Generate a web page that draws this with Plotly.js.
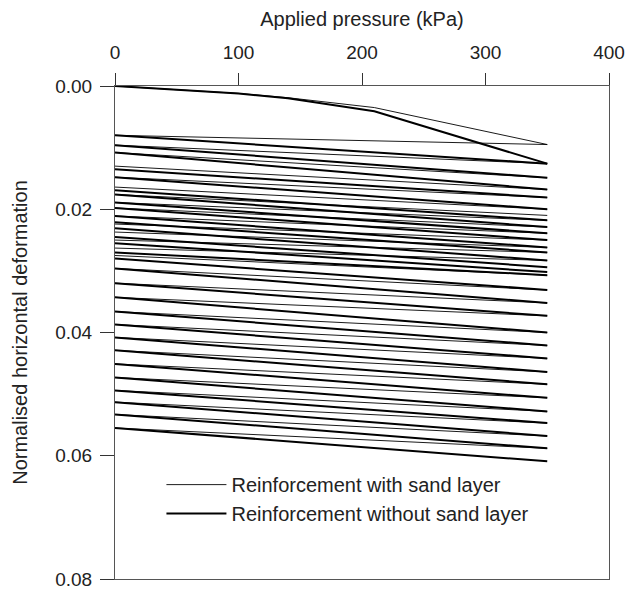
<!DOCTYPE html>
<html>
<head>
<meta charset="utf-8">
<script src="https://cdn.plot.ly/plotly-3.0.1.min.js"></script>
<style>html,body{margin:0;padding:0;background:#fff;}#chart{width:626px;height:592px;}</style>
</head>
<body>
<div id="chart"></div>
<script>
// Pressure (kPa) at the start and end of each straight line
const pressureEnds = [0, 350];

// Top curves (start from zero)
const topPressure = [0, 100, 140, 210, 350];
const topWithSand = [0, 0.0012, 0.0019, 0.0035, 0.0095];
const topWithoutSand = [0, 0.0012, 0.0020, 0.0041, 0.0126];

// Reinforcement with sand layer: value at 0 kPa and at 350 kPa
const withSandStart = [0.0080, 0.0096, 0.0108, 0.0130, 0.0148, 0.0164, 0.0176, 0.0189, 0.0198, 0.0211, 0.0224, 0.0237, 0.0250, 0.0263, 0.0275, 0.0296, 0.0320, 0.0343, 0.0366, 0.0387, 0.0408, 0.0429, 0.0451, 0.0473, 0.0494, 0.0513, 0.0533, 0.0555];
const withSandEnd   = [0.0095, 0.0126, 0.0149, 0.0168, 0.0181, 0.0200, 0.0210, 0.0218, 0.0229, 0.0239, 0.0250, 0.0262, 0.0270, 0.0283, 0.0307, 0.0331, 0.0352, 0.0373, 0.0400, 0.0421, 0.0442, 0.0464, 0.0484, 0.0506, 0.0528, 0.0547, 0.0568, 0.0588];

// Reinforcement without sand layer: value at 0 kPa and at 350 kPa
const withoutSandStart = [0.0080, 0.0096, 0.0108, 0.0135, 0.0148, 0.0169, 0.0176, 0.0189, 0.0198, 0.0211, 0.0221, 0.0231, 0.0245, 0.0255, 0.0270, 0.0280, 0.0296, 0.0320, 0.0343, 0.0366, 0.0387, 0.0408, 0.0429, 0.0451, 0.0473, 0.0494, 0.0513, 0.0533, 0.0555];
const withoutSandEnd   = [0.0126, 0.0149, 0.0168, 0.0181, 0.0200, 0.0218, 0.0229, 0.0239, 0.0250, 0.0262, 0.0270, 0.0283, 0.0294, 0.0302, 0.0307, 0.0331, 0.0352, 0.0373, 0.0400, 0.0421, 0.0442, 0.0464, 0.0484, 0.0506, 0.0528, 0.0547, 0.0568, 0.0588, 0.0609];

const xTicks = [0, 100, 200, 300, 400];
const yTicks = [0, 0.02, 0.04, 0.06, 0.08];
const yTickText = ['0.00', '0.02', '0.04', '0.06', '0.08'];

const thin = {color: '#000', width: 0.9};
const thick = {color: '#000', width: 2};

const traces = [];
traces.push({x: topPressure, y: topWithSand, mode: 'lines', line: thin, name: 'Reinforcement with sand layer', legendgroup: 'a', showlegend: true, hoverinfo: 'skip'});
traces.push({x: topPressure, y: topWithoutSand, mode: 'lines', line: thick, name: 'Reinforcement without sand layer', legendgroup: 'b', showlegend: true, hoverinfo: 'skip'});
withSandStart.forEach((s, i) => {
  traces.push({x: pressureEnds, y: [s, withSandEnd[i]], mode: 'lines', line: thin, legendgroup: 'a', showlegend: false, hoverinfo: 'skip'});
});
withoutSandStart.forEach((s, i) => {
  traces.push({x: pressureEnds, y: [s, withoutSandEnd[i]], mode: 'lines', line: thick, legendgroup: 'b', showlegend: false, hoverinfo: 'skip'});
});

const fam = 'Liberation Sans, Arial, sans-serif';
const txt = '#222';

const layout = {
  width: 626, height: 592,
  margin: {l: 115, r: 17, t: 86, b: 13},
  paper_bgcolor: '#fff', plot_bgcolor: '#fff',
  font: {family: fam, size: 19, color: txt},
  showlegend: true,
  legend: {x: 0.094, y: 0.231, xanchor: 'left', yanchor: 'top', bgcolor: 'rgba(0,0,0,0)', borderwidth: 0, font: {family: fam, size: 20, color: txt}, itemwidth: 60, tracegroupgap: 0},
  xaxis: {
    side: 'top', range: [0, 400], tickvals: xTicks, ticktext: xTicks.map(String),
    ticks: 'outside', ticklen: 12, tickwidth: 1, tickcolor: '#333', ticklabelstandoff: 6,
    showline: true, linecolor: '#555', linewidth: 1, mirror: true,
    showgrid: false, zeroline: false,
    title: {text: 'Applied pressure (kPa)', font: {family: fam, size: 20, color: txt}, standoff: 10},
    tickfont: {family: fam, size: 19, color: txt}
  },
  yaxis: {
    range: [0.08, 0], tickvals: yTicks, ticktext: yTickText,
    ticks: 'outside', ticklen: 14, tickwidth: 1, tickcolor: '#333', ticklabelstandoff: 4,
    showline: true, linecolor: '#555', linewidth: 1, mirror: true,
    showgrid: false, zeroline: false,
    title: {text: 'Normalised horizontal deformation', font: {family: fam, size: 20, color: txt}, standoff: 22},
    tickfont: {family: fam, size: 19, color: txt}
  }
};

Plotly.newPlot('chart', traces, layout, {displayModeBar: false, staticPlot: true});
</script>
</body>
</html>
